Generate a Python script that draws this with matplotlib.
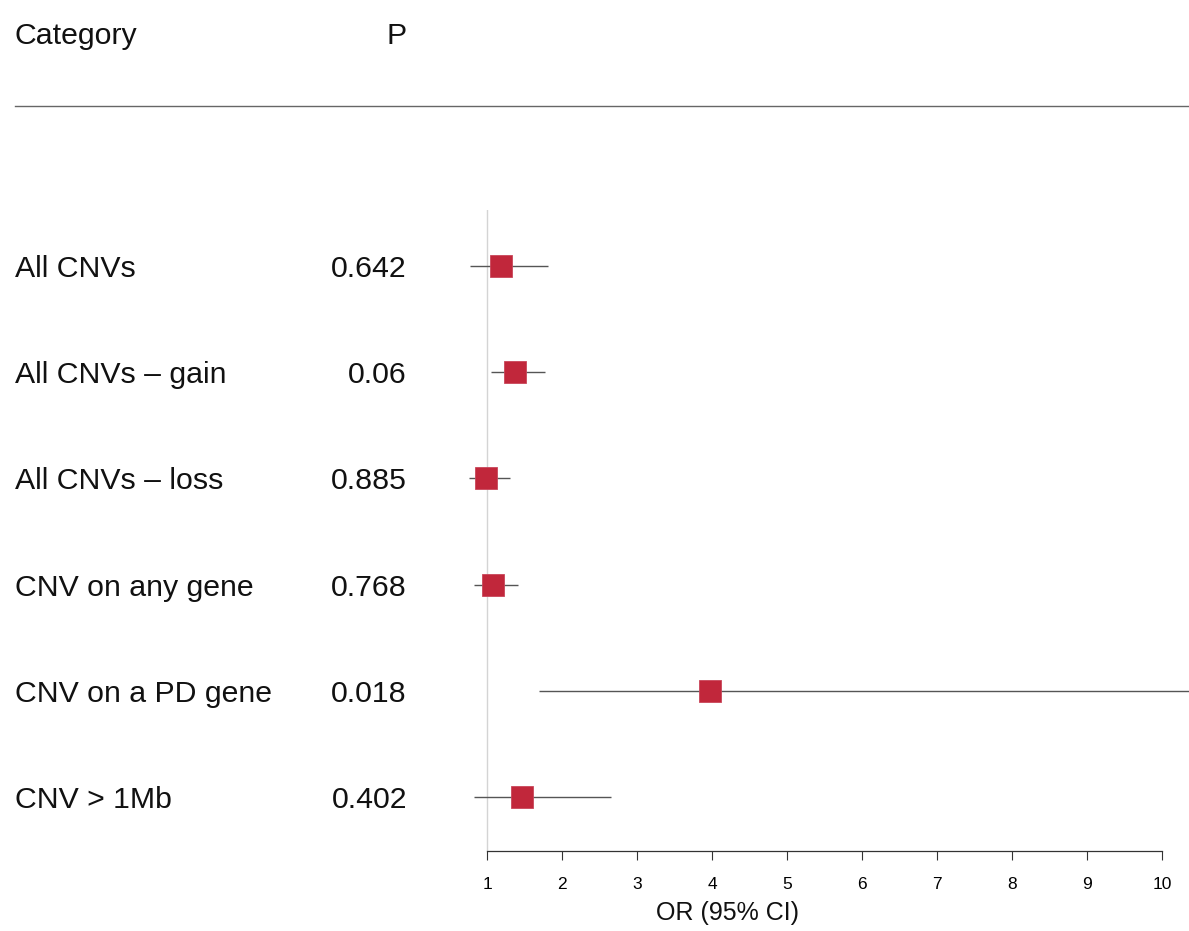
import numpy as np
import matplotlib
matplotlib.use("Agg")
import matplotlib.pyplot as plt
from matplotlib.transforms import blended_transform_factory

plt.rcParams['font.family'] = ['Liberation Sans', 'DejaVu Sans']

# data
categories = ["All CNVs", "All CNVs \u2013 gain", "All CNVs \u2013 loss",
              "CNV on any gene", "CNV on a PD gene", "CNV > 1Mb"]
p_values = ["0.642", "0.06", "0.885", "0.768", "0.018", "0.402"]
odds_ratio = [1.19, 1.37, 0.99, 1.08, 3.97, 1.47]
ci_low = [0.77, 1.05, 0.76, 0.83, 1.69, 0.83]
ci_high = [1.81, 1.77, 1.31, 1.41, 13.0, 2.65]
x_ticks = [1, 2, 3, 4, 5, 6, 7, 8, 9, 10]

W, H = 1189, 931
fig = plt.figure(figsize=(W / 100, H / 100), dpi=100)

# plot area in pixel terms: x 460..1189, y 210..851
ax = fig.add_axes([460 / W, 1 - 851 / H, (W - 460) / W, (851 - 210) / H])
rows = np.arange(len(categories))
ax.set_xlim(1 + (460 - 487) / 75, 1 + (W - 487) / 75)
ax.set_ylim(5.51, -0.53)

# reference line at OR = 1
ax.axvline(1, color="#d4d4d4", lw=1, zorder=0)

# CIs and point estimates
ax.hlines(rows, ci_low, ci_high, color="#555555", lw=1.0, zorder=1)
ax.plot(odds_ratio, rows, "s", color="#C1273B", markersize=16,
        markeredgecolor="#C9465A", markeredgewidth=0.6, zorder=2)

for s in ["top", "right", "left"]:
    ax.spines[s].set_visible(False)
ax.spines["bottom"].set_bounds(1, 10)
ax.spines["bottom"].set_color("#333333")
ax.spines["bottom"].set_linewidth(0.9)
ax.set_yticks([])
ax.set_xticks(x_ticks)
ax.set_xticklabels([str(t) for t in x_ticks])
ax.tick_params(axis="x", direction="out", length=6.5, width=0.8,
               color="#333333", pad=12, labelsize=12.5)

# left-hand table text
tr = blended_transform_factory(fig.transFigure, ax.transData)
for i, (cat, p) in enumerate(zip(categories, p_values)):
    ax.text(15 / W, i, cat, transform=tr, ha="left", va="center_baseline",
            fontsize=21.8, color="#111111")
    ax.text(407 / W, i, p, transform=tr, ha="right", va="center_baseline",
            fontsize=21.8, color="#111111")

# header
fig.text(15 / W, 1 - 33 / H, "Category", ha="left", va="center_baseline",
         fontsize=21.8, color="#111111")
fig.text(407 / W, 1 - 33 / H, "P", ha="right", va="center_baseline",
         fontsize=21.8, color="#111111")
fig.add_artist(plt.Line2D([15 / W, 1.0], [1 - 106 / H, 1 - 106 / H],
                          transform=fig.transFigure, color="#666666", lw=1.0))

# x axis title
fig.text(727 / W, 1 - 913 / H, "OR (95% CI)", ha="center", va="center",
         fontsize=18, color="#111111")

fig.savefig("out.png", dpi=100)
